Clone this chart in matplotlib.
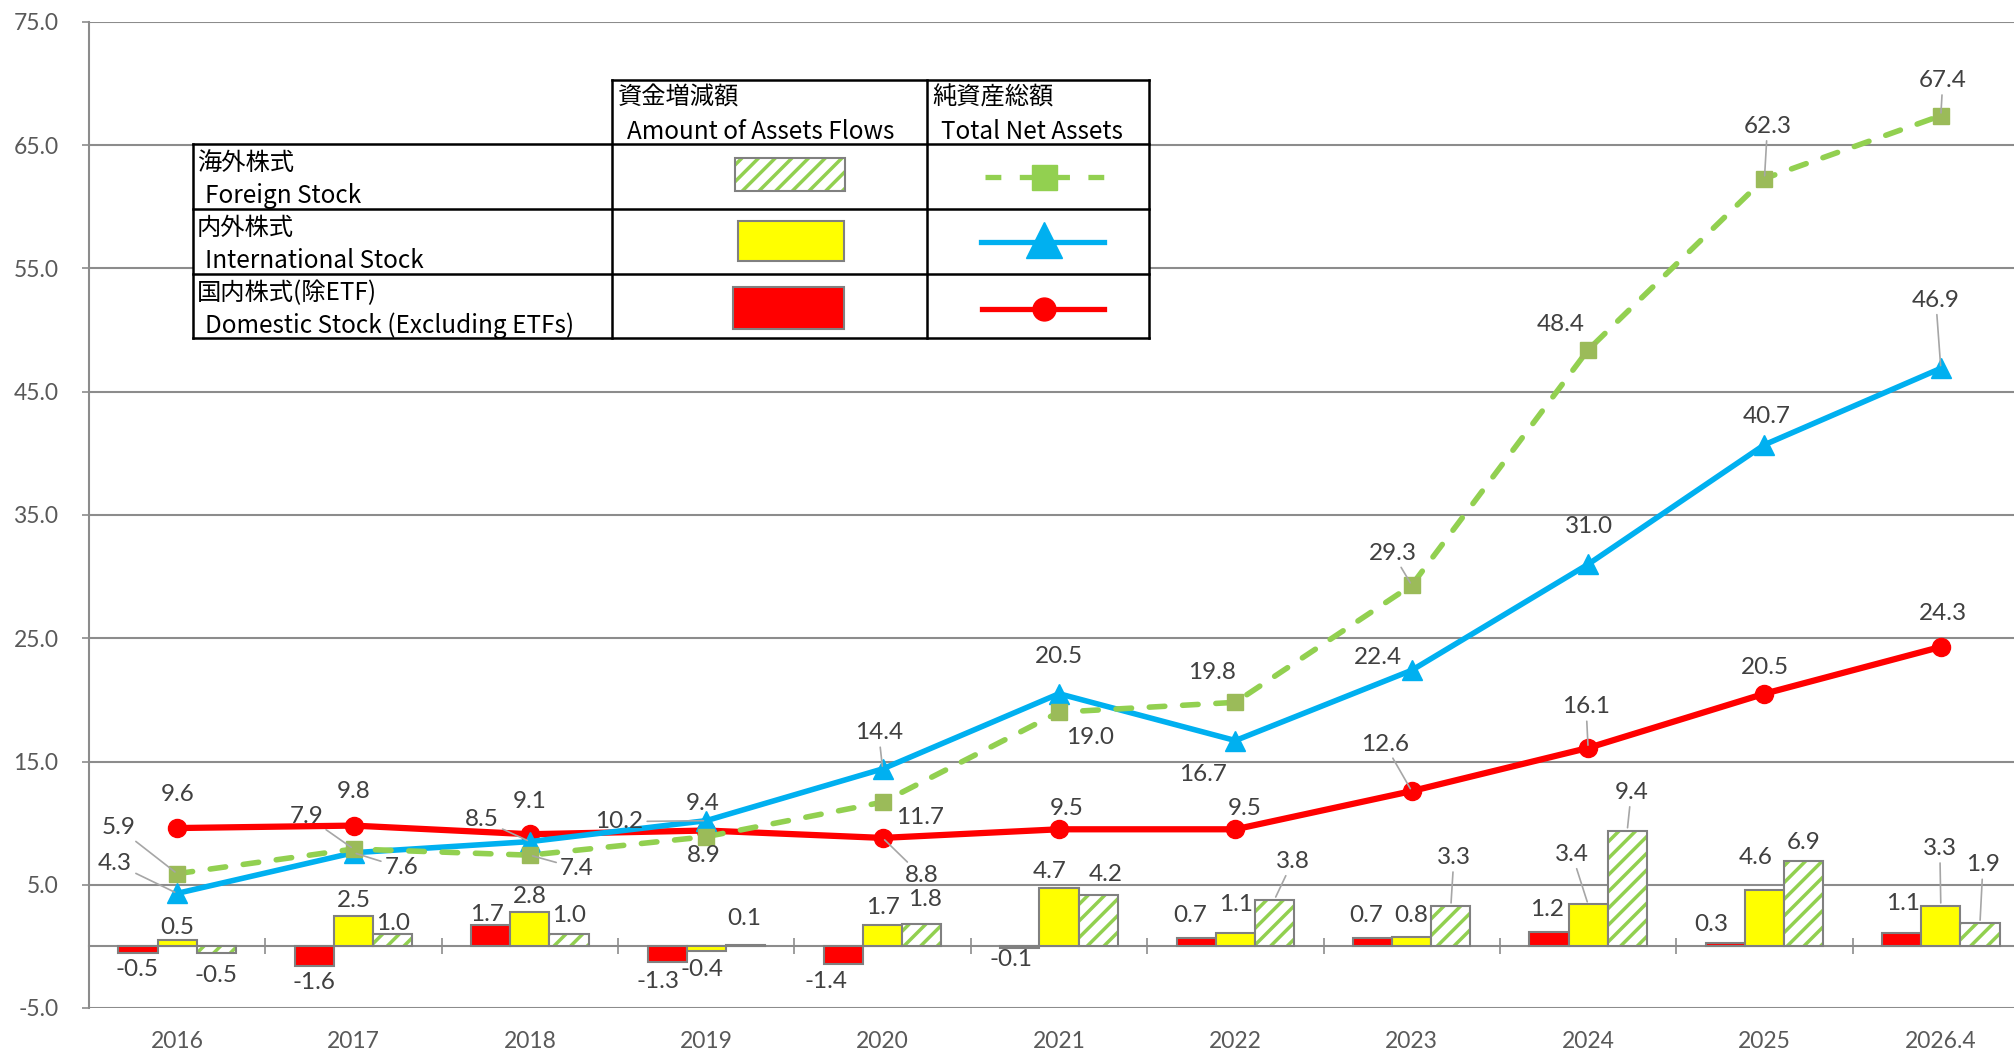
import numpy as np
import matplotlib
matplotlib.use('Agg')
import matplotlib.pyplot as plt
from matplotlib.patches import Rectangle

# ---- data ----
categories = ['2016', '2017', '2018', '2019', '2020', '2021', '2022', '2023', '2024', '2025', '2026.4']

# total net assets (lines)
domestic_tna = [9.6, 9.8, 9.1, 9.4, 8.8, 9.5, 9.5, 12.6, 16.1, 20.5, 24.3]
international_tna = [4.3, 7.6, 8.5, 10.2, 14.4, 20.5, 16.7, 22.4, 31.0, 40.7, 46.9]
foreign_tna = [5.9, 7.9, 7.4, 8.9, 11.7, 19.0, 19.8, 29.3, 48.4, 62.3, 67.4]

# amount of assets flows (bars)
domestic_flow = [-0.5, -1.6, 1.7, -1.3, -1.4, -0.1, 0.7, 0.7, 1.2, 0.3, 1.1]
international_flow = [0.5, 2.5, 2.8, -0.4, 1.7, 4.7, 1.1, 0.8, 3.4, 4.6, 3.3]
foreign_flow = [-0.5, 1.0, 1.0, 0.1, 1.8, 4.2, 3.8, 3.3, 9.4, 6.9, 1.9]

# ---- label placement (pixel offsets dx, dy) and leader lines ----
domestic_tna_off = [(0, 34), (0, 34), (0, 33), (-4, 27), (39, -38), (8, 21), (9, 21),
                    (-27, 47), (-2, 41), (0, 26), (2, 33)]
domestic_tna_lead = [0, 0, 0, 0, 1, 0, 0, 1, 1, 0, 0]
international_tna_off = [(-62, 30), (48, -15), (-48, 22), (-87, -1), (-4, 36), (0, 37),
                         (-32, -34), (-34, 13), (1, 38), (2, 28), (-5, 68)]
international_tna_lead = [1, 1, 1, 1, 1, 0, 0, 0, 0, 0, 1]
foreign_tna_off = [(-59, 46), (-47, 33), (47, -13), (-3, -19), (37, -15), (31, -25),
                   (-23, 30), (-19, 32), (-27, 25), (3, 52), (2, 35)]
foreign_tna_lead = [1, 1, 1, 0, 0, 0, 0, 1, 0, 1, 1]

domestic_flow_off = [(-1, -17), (0, -16), (-4, 11), (-9, -19), (-17, -18), (-9, -12),
                     (-6, 22), (-6, 22), (-2, 22), (-14, 18), (1, 29)]
domestic_flow_lead = [0] * 11
international_flow_off = [(0, 13), (0, 15), (0, 15), (-4, -18), (0, 18), (-9, 17),
                          (1, 28), (-1, 21), (-16, 50), (-9, 32), (-1, 57)]
international_flow_lead = [0, 0, 0, 0, 0, 0, 0, 0, 1, 0, 1]
foreign_flow_off = [(0, -23), (0, 11), (0, 19), (-1, 27), (3, 25), (8, 20),
                    (18, 38), (3, 48), (4, 38), (0, 19), (3, 58)]
foreign_flow_lead = [0, 0, 0, 0, 0, 0, 1, 1, 1, 0, 1]

RED = '#FF0000'
YELLOW = '#FFFF00'
GREEN = '#92D050'
OLIVE = '#9BBB59'
BLUE = '#00B0F0'
GRID = '#8C8C8C'
BAR_EDGE = '#808080'
LABEL = '#404040'
TICK = '#595959'
NUM_FONT = ['Lato', 'DejaVu Sans']
JP_FONT = ['Noto Sans CJK JP', 'DejaVu Sans']

plt.rcParams['hatch.linewidth'] = 2.5

W, H = 2015, 1054
fig = plt.figure(figsize=(W / 100, H / 100), dpi=100)
ax = fig.add_axes([89 / W, 1 - 1008 / H, 1940 / W, 986 / H])

x = np.arange(len(categories))
bw = 0.222

# bars
ax.bar(x - bw, domestic_flow, bw, color=RED, edgecolor=BAR_EDGE, lw=1.5, zorder=3)
ax.bar(x, international_flow, bw, color=YELLOW, edgecolor=BAR_EDGE, lw=1.5, zorder=3)
ax.bar(x + bw, foreign_flow, bw, color='white', edgecolor=GREEN, hatch='//', lw=0, zorder=3)
ax.bar(x + bw, foreign_flow, bw, fill=False, edgecolor=BAR_EDGE, lw=1.5, zorder=3.1)

# lines
ax.plot(x, domestic_tna, color=RED, lw=4.5, marker='o', ms=13, zorder=5)
ax.plot(x, international_tna, color=BLUE, lw=4.0, marker='^', ms=15, zorder=6)
ax.plot(x, foreign_tna, color=GREEN, lw=4.0, dashes=(2.8, 3.2), dash_capstyle='round',
        marker='s', ms=11, mfc=OLIVE, mec=OLIVE, zorder=7)


def add_labels(xs, ys, offsets, leaders):
    for xi, yi, (dx, dy), lead in zip(xs, ys, offsets, leaders):
        arrow = dict(arrowstyle='-', color='#A6A6A6', lw=1.2, shrinkA=1, shrinkB=2) if lead else None
        ax.annotate('{:.1f}'.format(yi), (xi, yi), xytext=(dx, dy), textcoords='offset pixels',
                    ha='center', va='center', fontsize=17.5, color=LABEL, family=NUM_FONT,
                    zorder=10, arrowprops=arrow,
                    bbox=dict(boxstyle='square,pad=0.1', fc='none', ec='none'))


add_labels(x, domestic_tna, domestic_tna_off, domestic_tna_lead)
add_labels(x, international_tna, international_tna_off, international_tna_lead)
add_labels(x, foreign_tna, foreign_tna_off, foreign_tna_lead)
add_labels(x - bw, domestic_flow, domestic_flow_off, domestic_flow_lead)
add_labels(x, international_flow, international_flow_off, international_flow_lead)
add_labels(x + bw, foreign_flow, foreign_flow_off, foreign_flow_lead)

# axes styling
ax.set_xlim(-0.5, len(categories) - 0.5)
ax.set_ylim(-5, 75)
yt = np.arange(-5, 76, 10)
ax.set_yticks(yt)
ax.set_yticklabels(['{:.1f}'.format(v) for v in yt], family=NUM_FONT, fontsize=16.5, color=TICK)
ax.grid(axis='y', color=GRID, lw=1.5)
ax.set_axisbelow(True)
for s in ['top', 'right']:
    ax.spines[s].set_visible(False)
ax.spines['left'].set_color(GRID)
ax.spines['left'].set_linewidth(1.5)
ax.spines['bottom'].set_position(('data', 0))
ax.spines['bottom'].set_color(GRID)
ax.spines['bottom'].set_linewidth(1.5)
ax.tick_params(axis='y', direction='out', length=5, width=1.2, color=GRID, pad=17)

ax.set_xticks(x[:-1] + 0.5)
ax.set_xticklabels([])
ax.tick_params(axis='x', which='major', direction='inout', length=11, width=1.2, color=GRID)
ax.set_xticks(x, minor=True)
ax.set_xticklabels(categories, minor=True, family=NUM_FONT, fontsize=16.5, color=TICK)
ax.tick_params(axis='x', which='minor', length=0, pad=61)

# ---- legend table drawn in pixel coordinates ----
lax = fig.add_axes([0, 0, 1, 1], zorder=20)
lax.set_xlim(0, W)
lax.set_ylim(H, 0)
lax.axis('off')

c0, c1, c2, c3 = 193, 612, 927, 1149
r0, r1, r2, r3, r4 = 80, 144, 209, 274, 338
lax.add_patch(Rectangle((c1, r0), c3 - c1, r1 - r0, fc='white', ec='none'))
lax.add_patch(Rectangle((c0, r1), c3 - c0, r4 - r1, fc='white', ec='none'))
tl = dict(color='black', lw=1.8, solid_capstyle='projecting')
lax.plot([c1, c3], [r0, r0], **tl)
for r in [r1, r2, r3, r4]:
    lax.plot([c0, c3], [r, r], **tl)
lax.plot([c0, c0], [r1, r4], **tl)
for c in [c1, c2, c3]:
    lax.plot([c, c], [r0, r4], **tl)

tfs = 17.5
lax.text(618, 98, '資金増減額', fontsize=tfs, family=JP_FONT, va='center')
lax.text(627, 132, 'Amount of Assets Flows', fontsize=tfs, family=JP_FONT, va='center')
lax.text(932, 98, '純資産総額', fontsize=tfs, family=JP_FONT, va='center')
lax.text(941, 132, 'Total Net Assets', fontsize=tfs, family=JP_FONT, va='center')
rows = [('海外株式', 'Foreign Stock'), ('内外株式', 'International Stock'),
        ('国内株式(除ETF)', 'Domestic Stock (Excluding ETFs)')]
for (jp, en), r in zip(rows, [r1, r2, r3]):
    lax.text(197, r + 19, jp, fontsize=tfs, family=JP_FONT, va='center')
    lax.text(205, r + 52, en, fontsize=tfs, family=JP_FONT, va='center')

# legend samples
lax.add_patch(Rectangle((735, 158), 110, 33, fc='white', ec=GREEN, hatch='//', lw=0))
lax.add_patch(Rectangle((735, 158), 110, 33, fill=False, ec=BAR_EDGE, lw=1.5))
lax.add_patch(Rectangle((738, 221), 106, 40, fc=YELLOW, ec=BAR_EDGE, lw=1.5))
lax.add_patch(Rectangle((733, 287), 111, 42, fc=RED, ec=BAR_EDGE, lw=1.5))

lax.plot([985, 1105], [177, 177], color=GREEN, lw=3.8, dashes=(3.0, 3.5), dash_capstyle='butt')
lax.plot([1044], [177], marker='s', ms=18, color=GREEN)
lax.plot([981, 1104], [242, 242], color=BLUE, lw=3.8)
lax.plot([1044], [240], marker='^', ms=26, color=BLUE)
lax.plot([982, 1104], [309, 309], color=RED, lw=3.8)
lax.plot([1044], [309], marker='o', ms=16.5, color=RED)

fig.savefig('out.png', dpi=100)
